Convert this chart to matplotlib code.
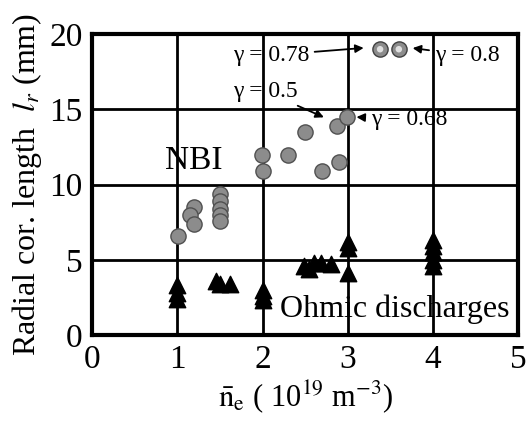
import numpy as np
import matplotlib.pyplot as plt

plt.rcParams['font.family'] = ['Liberation Serif', 'DejaVu Serif']
plt.rcParams['mathtext.fontset'] = 'stix'

# NBI discharges (circles)
nbi_ne = [1.01, 1.2, 1.15, 1.2, 1.5, 1.5, 1.5, 1.5, 1.5,
          1.99, 2.0, 2.3, 2.5, 2.7, 2.9, 2.88, 2.99]
nbi_lr = [6.6, 8.5, 8.0, 7.4, 9.4, 8.9, 8.4, 8.0, 7.6,
          12.0, 10.9, 12.0, 13.5, 10.9, 11.5, 13.9, 14.5]
# high-gamma NBI points
top_ne = [3.38, 3.6]
top_lr = [19.0, 19.0]

# Ohmic discharges (triangles)
ohm_ne = [1.0, 1.0, 1.0, 1.45, 1.5, 1.62, 2.0, 2.0, 2.0,
          2.49, 2.55, 2.6, 2.69, 2.8, 3.0, 3.0, 3.0,
          4.0, 4.0, 4.0, 4.0, 4.0]
ohm_lr = [3.3, 2.8, 2.4, 3.6, 3.4, 3.4, 3.0, 2.6, 2.3,
          4.6, 4.4, 4.8, 4.8, 4.7, 6.2, 5.8, 4.1,
          6.3, 5.9, 5.5, 5.0, 4.6]

fig = plt.figure(figsize=(5.27, 4.22), dpi=100)
ax = fig.add_axes([0.175, 0.206, 0.808, 0.713])

ax.scatter(nbi_ne, nbi_lr, s=120, facecolor='#8c8c8c', edgecolor='#505050',
           linewidth=1.0, zorder=3)
ax.scatter(top_ne, top_lr, s=120, facecolor='#8c8c8c', edgecolor='#404040',
           linewidth=1.0, zorder=3)
ax.scatter(top_ne, top_lr, s=22, facecolor='#e0e0e0', edgecolor='none', zorder=4)
ax.scatter(ohm_ne, ohm_lr, s=140, marker='^', color='black', zorder=3)

ax.set_xlim(0, 5)
ax.set_ylim(0, 20)
ax.set_xticks([0, 1, 2, 3, 4, 5])
ax.set_yticks([0, 5, 10, 15, 20])
ax.grid(True, color='black', linewidth=2)
ax.set_axisbelow(True)
for sp in ax.spines.values():
    sp.set_linewidth(3)
ax.tick_params(length=0, labelsize=24, pad=7)

ax.set_xlabel(r'$\bar{\mathrm{n}}_{\mathrm{e}}$ ( 10$^{19}$ m$^{-3}$)', fontsize=22, labelpad=2)
ax.set_ylabel(r'Radial cor. length  $l_r$ (mm)', fontsize=23, labelpad=4)

ax.text(1.19, 11.6, 'NBI', fontsize=24, ha='center', va='center')
ax.text(2.2, 1.2, 'Ohmic discharges', fontsize=23, ha='left', va='baseline')

arr = dict(arrowstyle='-|>', color='black', lw=1.3, mutation_scale=12)
ax.annotate('γ = 0.78', xy=(3.22, 19.1), xytext=(1.65, 18.6),
            fontsize=17, va='center', arrowprops=arr)
ax.annotate('γ = 0.8', xy=(3.73, 19.1), xytext=(4.02, 18.6),
            fontsize=17, va='center', arrowprops=arr)
ax.annotate('γ = 0.5', xy=(2.75, 14.4), xytext=(1.65, 16.2),
            fontsize=17, va='center', arrowprops=arr)
ax.annotate('γ = 0.68', xy=(3.07, 14.5), xytext=(3.27, 14.3),
            fontsize=17, va='center', arrowprops=arr)

fig.savefig('out.png', dpi=100)
